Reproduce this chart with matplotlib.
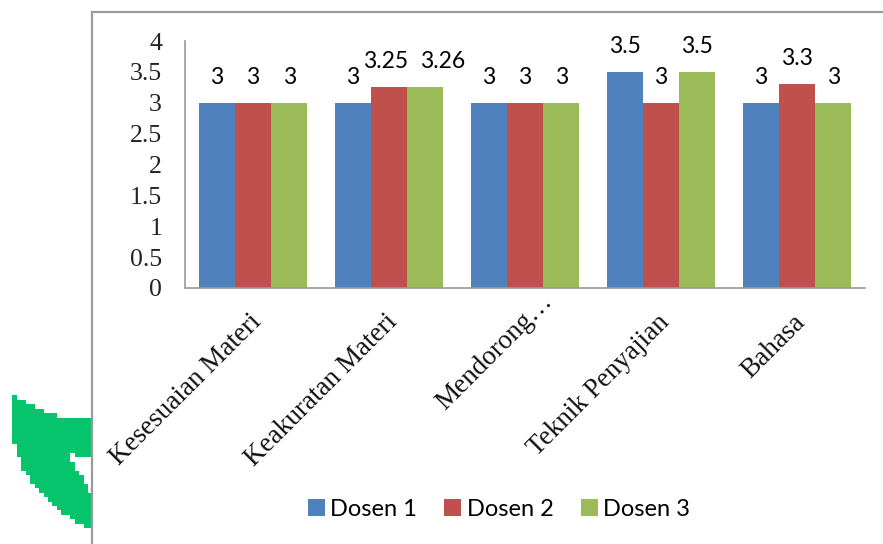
import matplotlib
matplotlib.use("Agg")
import matplotlib.pyplot as plt
from matplotlib.path import Path
from matplotlib.transforms import ScaledTranslation
import numpy as np

categories = ["Kesesuaian Materi", "Keakuratan Materi", "Mendorong…", "Teknik Penyajian", "Bahasa"]
dosen_1 = [3, 3, 3, 3.5, 3]
dosen_2 = [3, 3.25, 3, 3, 3.3]
dosen_3 = [3, 3.26, 3, 3.5, 3]
series_names = ["Dosen 1", "Dosen 2", "Dosen 3"]
y_ticks = [0, 0.5, 1, 1.5, 2, 2.5, 3, 3.5, 4]
y_tick_labels = ["0", "0.5", "1", "1.5", "2", "2.5", "3", "3.5", "4"]

W, H = 883, 544
GREY = "#9a9a9a"
SERIF = "Liberation Serif"
SANS = "Lato"
colors = ["#4f81bd", "#c0504d", "#9bbb59"]

fig = plt.figure(figsize=(W / 100, H / 100), dpi=100, facecolor="white")


def px_box(left, top, right, bottom):
    return [left / W, 1 - bottom / H, (right - left) / W, (bottom - top) / H]


# Green arrow ornament behind the chart frame: a blocky low-resolution bitmap
canvas = fig.add_axes([0, 0, 1, 1], zorder=0)
arrow_outline = [(11, 396), (43, 412), (63, 418), (92, 419), (92, 458), (68, 455),
                 (92, 497), (92, 532), (57, 510), (33, 487), (20, 463), (12, 437)]
cell = 4.4
grid_x = np.arange(8, 92, cell)
grid_y = np.arange(392, 536, cell)
gx, gy = np.meshgrid(grid_x + cell / 2, grid_y + cell / 2)
inside = Path(arrow_outline).contains_points(np.c_[gx.ravel(), gy.ravel()]).reshape(gx.shape)
bitmap = np.zeros(inside.shape + (4,))
bitmap[..., :3] = matplotlib.colors.to_rgb("#06c46c")
bitmap[..., 3] = inside.astype(float)
canvas.imshow(bitmap, extent=(grid_x[0], grid_x[-1] + cell, grid_y[-1] + cell, grid_y[0]),
              interpolation="nearest", aspect="auto")
canvas.set_xlim(0, W)
canvas.set_ylim(H, 0)
canvas.axis("off")
canvas.plot([92, 92, W], [H, 12, 12], color=GREY, lw=1.6, solid_joinstyle="miter")

ax = fig.add_axes(px_box(185, 41, 865, 288), zorder=1)
ax.patch.set_alpha(0)
x = np.arange(len(categories))
width = 0.266

# Two neighbouring labels in the second group are pushed apart so they stay legible
label_shift_px = {(1, 1): (-3, 0), (1, 2): (17, 0)}

for i, (values, name, color) in enumerate(zip([dosen_1, dosen_2, dosen_3], series_names, colors)):
    bars = ax.bar(x + (i - 1) * width, values, width, color=color, label=name, linewidth=0)
    for j, (rect, value) in enumerate(zip(bars, values)):
        dx, dy = label_shift_px.get((j, i), (0, 0))
        ax.annotate(f"{value:g}", (rect.get_x() + rect.get_width() / 2, value + 0.24),
                    xytext=(dx * 0.72, dy * 0.72), textcoords="offset points",
                    ha="center", va="bottom", fontsize=16.5, family=SANS, color="black")

ax.set_xlim(-0.5, len(categories) - 0.5)
ax.set_ylim(0, 4)
ax.set_yticks(y_ticks, y_tick_labels, family=SERIF, fontsize=18.5, color="#222222")
ax.set_xticks(x - 0.03, categories, family=SERIF, fontsize=19.5, rotation=45,
              ha="right", va="top", rotation_mode="anchor", color="#111111")
ax.tick_params(axis="both", length=0)
ax.tick_params(axis="y", pad=16.5)
ax.tick_params(axis="x", pad=15.5)

# The truncated category sits further along its slant than the other labels
truncated = ax.get_xticklabels()[2]
truncated.set_transform(truncated.get_transform()
                        + ScaledTranslation(19 / 100, 21 / 100, fig.dpi_scale_trans))

for side in ("top", "right"):
    ax.spines[side].set_visible(False)
for side in ("left", "bottom"):
    ax.spines[side].set_color(GREY)
    ax.spines[side].set_linewidth(1.2)

fig.legend(loc="center", bbox_to_anchor=(499 / W, 1 - 509 / H), ncol=3, frameon=False,
           prop={"family": SANS, "size": 17}, handlelength=0.72, handleheight=0.72,
           handletextpad=0.22, columnspacing=1.15)

fig.savefig("out.png", dpi=100)
